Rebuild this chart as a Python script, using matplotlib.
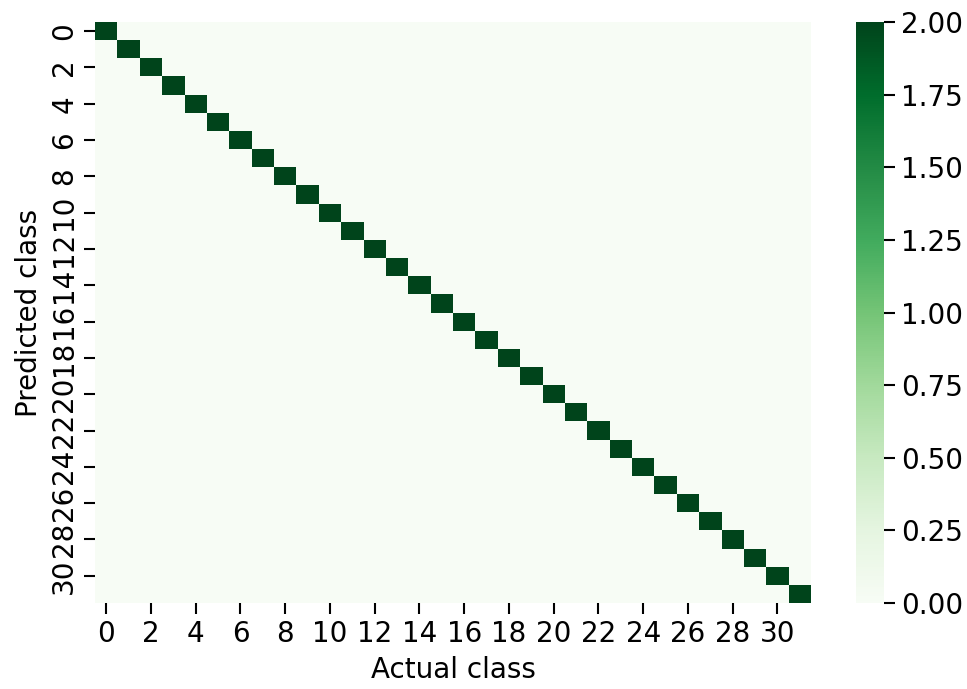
import numpy as np
import matplotlib
matplotlib.use("Agg")
import matplotlib.pyplot as plt
import seaborn as sns

classes = list(range(32))
diag_counts = [2] * 32

cm = np.zeros((len(classes), len(classes)))
for i, c in enumerate(diag_counts):
    cm[i, i] = c

W, H = 967, 689
fig = plt.figure(figsize=(W / 100, H / 100), dpi=100)
ax = fig.add_axes([95 / W, 1 - 603 / H, (811 - 95) / W, (603 - 22) / H])
cax = fig.add_axes([856 / W, 1 - 603 / H, (884 - 856) / W, (603 - 22) / H])

sns.heatmap(cm, cmap="Greens", ax=ax, cbar_ax=cax, vmin=0, vmax=2)

fs = 20
ax.set_xticks(np.arange(0, 32, 2) + 0.5)
ax.set_xticklabels([str(c) for c in classes[::2]], rotation=0, fontsize=fs)
ax.set_yticks(np.arange(0, 32, 2) + 0.5)
ax.set_yticklabels([str(c) for c in classes[::2]], rotation=90, fontsize=fs, va="center")
ax.tick_params(length=8, width=1.5, pad=4)
ax.set_xlabel("Actual class", fontsize=fs, labelpad=6)
ax.set_ylabel("Predicted class", fontsize=fs, labelpad=5)

cax.tick_params(labelsize=fs, length=8, width=1.5, pad=4)
cax.set_yticks([0, 0.25, 0.5, 0.75, 1.0, 1.25, 1.5, 1.75, 2.0])
cax.set_yticklabels(["0.00", "0.25", "0.50", "0.75", "1.00", "1.25", "1.50", "1.75", "2.00"])

fig.savefig("out.png", dpi=100)
